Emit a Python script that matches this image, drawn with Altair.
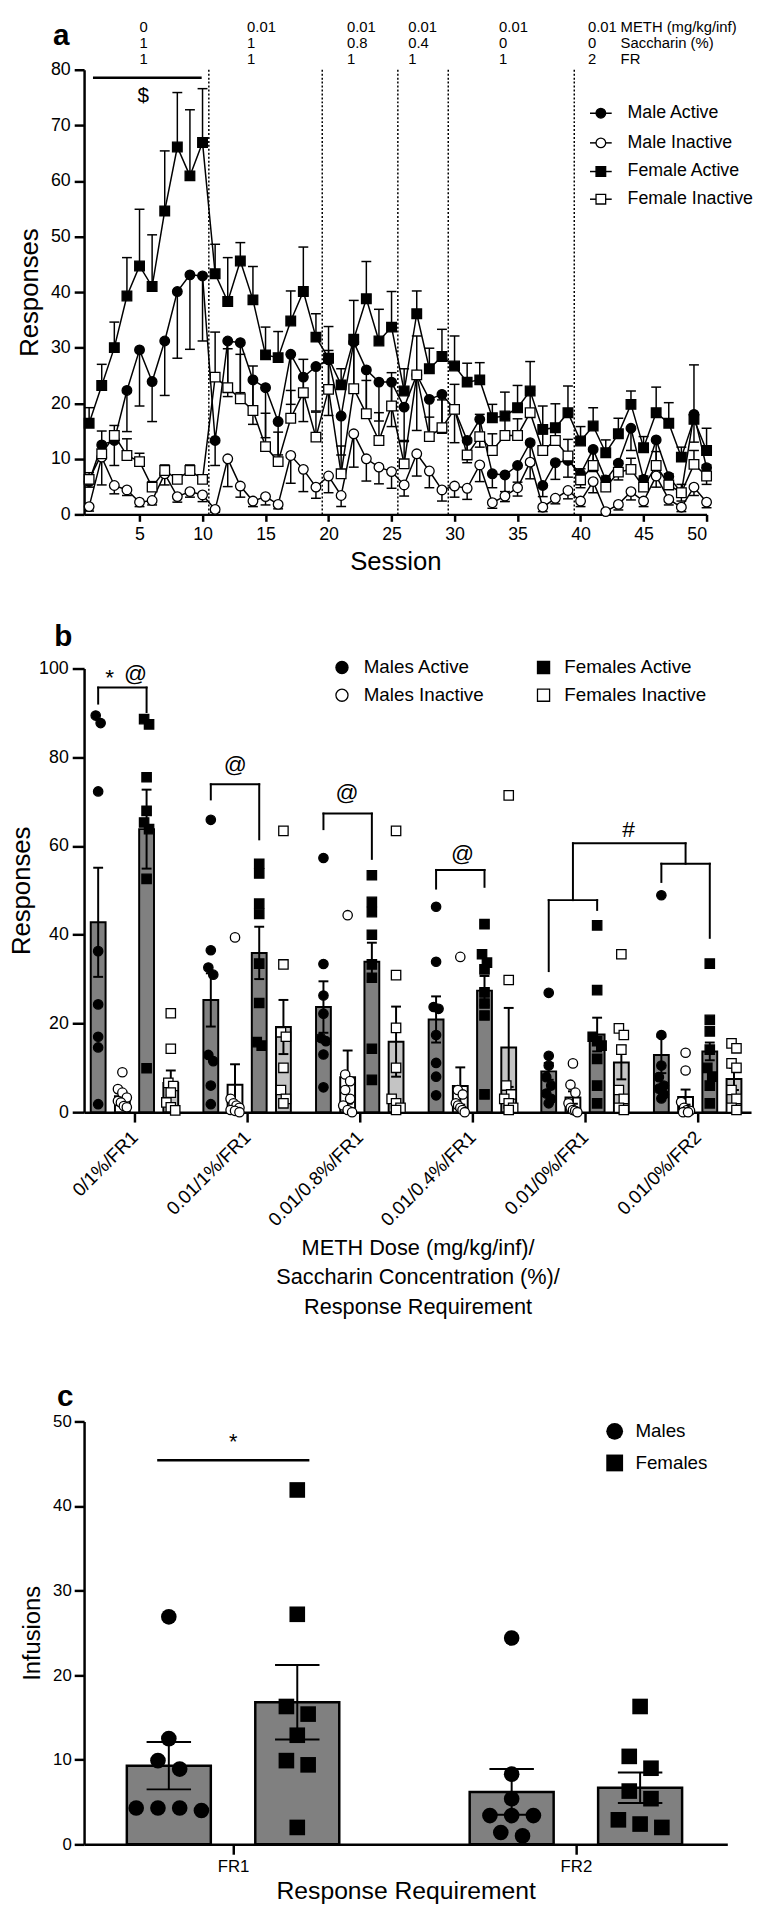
import altair as alt
import pandas as pd

FONT = "Liberation Sans"

# ---------------- Panel a: responses per session ----------------
sessions = list(range(1, 51))
series_a = ["Male Active", "Male Inactive", "Female Active", "Female Inactive"]
male_active = [5.9, 12.5, 13.3, 22.3, 29.6, 23.9, 31.2, 40.1, 43.1, 42.9,
               13.3, 31.2, 30.9, 24.2, 22.8, 16.7, 28.8, 24.7, 26.6, 27.8,
               17.7, 31.0, 26.0, 23.8, 23.8, 19.3, 25.1, 20.7, 21.6, 18.9,
               13.3, 17.1, 7.3, 7.1, 8.8, 12.9, 5.2, 9.3, 9.7, 7.3,
               11.7, 6.2, 9.2, 15.5, 6.3, 13.4, 6.8, 3.9, 18.0, 8.4]
male_active_sem = [1.0, 2.5, 4.5, 7.4, 10.1, 7.2, 9.8, 12.0, 13.4, 11.7,
                   4.5, 10.0, 9.0, 8.0, 9.0, 6.0, 9.0, 8.0, 8.0, 10.0,
                   7.0, 9.0, 8.0, 7.0, 8.0, 6.0, 10.0, 6.0, 7.0, 6.0,
                   4.0, 5.0, 2.5, 3.0, 3.0, 4.0, 2.0, 3.0, 3.0, 2.5,
                   4.0, 2.0, 3.0, 4.0, 2.0, 4.0, 2.0, 1.5, 5.0, 3.0]
male_inactive = [1.4, 10.3, 5.2, 4.4, 2.2, 2.5, 7.3, 3.2, 4.1, 3.5,
                 0.9, 10.0, 5.1, 2.4, 3.2, 1.8, 10.6, 8.1, 4.9, 6.9,
                 3.4, 14.5, 10.0, 8.5, 7.7, 5.3, 10.9, 7.8, 4.4, 5.1,
                 4.7, 8.9, 2.1, 3.3, 4.8, 9.4, 1.3, 2.9, 4.3, 2.4,
                 5.9, 0.5, 1.8, 4.1, 2.4, 6.9, 2.7, 1.3, 4.9, 2.2]
male_inactive_sem = [0.8, 5.0, 1.5, 1.0, 0.8, 0.8, 2.0, 1.0, 1.0, 1.2,
                     0.5, 5.0, 2.0, 1.0, 1.5, 0.8, 5.0, 4.0, 2.0, 3.0,
                     2.0, 6.0, 4.0, 3.0, 3.0, 2.0, 4.0, 3.0, 2.0, 2.0,
                     2.0, 3.0, 1.0, 1.0, 1.5, 3.0, 0.8, 1.0, 1.5, 1.0,
                     2.0, 0.5, 1.0, 1.5, 1.0, 2.0, 1.0, 0.8, 1.5, 1.0]
female_active = [16.4, 23.2, 30.0, 39.3, 44.7, 41.0, 54.6, 66.1, 60.9, 66.9,
                 43.3, 38.3, 45.6, 38.6, 28.7, 28.2, 34.8, 40.1, 31.9, 28.1,
                 23.3, 31.5, 38.8, 31.2, 33.7, 22.2, 36.1, 26.2, 28.4, 26.7,
                 23.8, 24.2, 17.4, 17.7, 19.2, 22.2, 15.3, 15.6, 18.3, 13.2,
                 15.9, 11.1, 14.5, 19.8, 12.0, 18.3, 16.4, 10.3, 17.1, 11.5]
female_active_sem = [2.8, 3.8, 4.6, 6.9, 10.2, 9.3, 10.8, 9.8, 11.9, 9.7,
                     5.3, 7.9, 3.3, 6.0, 5.0, 4.7, 5.4, 8.0, 4.2, 5.7,
                     2.9, 7.0, 6.7, 5.7, 6.4, 4.0, 4.1, 3.7, 4.9, 5.4,
                     3.4, 3.1, 2.4, 4.3, 4.0, 5.3, 4.2, 4.3, 4.8, 2.6,
                     3.3, 2.3, 2.8, 2.4, 2.0, 4.6, 3.7, 1.8, 9.8, 4.0]
female_inactive = [6.3, 10.9, 14.2, 10.6, 9.5, 4.9, 7.9, 6.3, 7.9, 6.3,
                   24.7, 22.8, 20.8, 18.7, 12.2, 9.5, 17.3, 21.9, 13.9, 22.5,
                   7.3, 22.6, 18.1, 13.3, 19.5, 9.1, 25.1, 14.0, 15.6, 18.9,
                   10.7, 14.0, 11.5, 14.2, 14.2, 18.3, 11.5, 13.3, 10.5, 6.2,
                   8.8, 4.9, 7.6, 8.1, 4.9, 8.8, 5.3, 3.9, 9.0, 6.9]
female_inactive_sem = [1.2, 4.1, 1.8, 3.0, 1.5, 1.0, 1.0, 0.8, 1.0, 0.8,
                       8.1, 7.0, 8.0, 8.0, 6.0, 5.3, 5.0, 6.0, 4.5, 7.0,
                       5.0, 8.0, 6.0, 5.0, 6.0, 4.0, 7.0, 3.5, 5.0, 4.5,
                       3.0, 4.0, 3.0, 3.0, 3.0, 4.0, 3.0, 3.0, 3.0, 2.0,
                       2.5, 2.0, 2.0, 2.0, 2.0, 2.5, 2.0, 1.5, 2.5, 2.0]
phase_breaks = [10.5, 19.5, 25.5, 29.5, 39.5]
phase_meth = ["0", "0.01", "0.01", "0.01", "0.01", "0.01"]
phase_sacc = ["1", "1", "0.8", "0.4", "0", "0"]
phase_fr = ["1", "1", "1", "1", "1", "2"]
phase_row_titles = ["METH (mg/kg/inf)", "Saccharin (%)", "FR"]

# ---------------- Panel b: responses per condition ----------------
conditions = ["0/1%/FR1", "0.01/1%/FR1", "0.01/0.8%/FR1",
              "0.01/0.4%/FR1", "0.01/0%/FR1", "0.01/0%/FR2"]
series_b = ["Males Active", "Males Inactive", "Females Active", "Females Inactive"]
b_mean = {
    "Males Active": [42.8, 25.3, 23.7, 20.9, 9.2, 12.9],
    "Males Inactive": [3.6, 6.2, 7.9, 5.9, 3.3, 3.4],
    "Females Active": [63.8, 35.9, 33.9, 27.4, 17.5, 13.7],
    "Females Inactive": [6.6, 19.2, 15.9, 14.6, 11.2, 7.5],
}
b_sem = {
    "Males Active": [12.3, 6.0, 5.8, 5.2, 1.9, 4.1],
    "Males Inactive": [1.0, 4.6, 6.0, 4.2, 1.4, 1.7],
    "Females Active": [8.9, 5.9, 4.3, 3.3, 3.8, 2.0],
    "Females Inactive": [2.8, 6.1, 7.9, 8.9, 3.8, 2.5],
}
b_points = {
    "Males Active": [
        [89.4, 87.7, 72.3, 36.3, 24.3, 17.0, 14.6, 1.8],
        [65.9, 36.5, 32.6, 31.0, 12.9, 11.5, 6.0, 1.8],
        [57.3, 33.4, 26.3, 22.2, 16.7, 16.0, 13.0, 5.6],
        [46.3, 33.9, 23.7, 23.3, 17.4, 11.1, 8.0, 3.8],
        [26.9, 12.7, 10.5, 7.9, 6.0, 4.2, 3.0, 2.0],
        [48.9, 17.4, 10.5, 7.9, 6.0, 5.3, 4.0, 3.1]],
    "Males Inactive": [
        [9.0, 5.2, 4.4, 3.3, 2.5, 2.2, 1.4, 1.1],
        [39.4, 3.0, 2.0, 1.5, 1.0, 0.5, 0.3, 0.0],
        [44.4, 8.5, 7.0, 5.0, 3.0, 1.5, 0.5, 0.0],
        [35.0, 5.0, 4.0, 2.0, 1.5, 1.0, 0.5, 0.0],
        [11.0, 6.2, 4.4, 2.0, 1.0, 0.5, 0.3, 0.0],
        [13.4, 9.4, 2.3, 1.0, 0.5, 0.3, 0.0, 0.0]],
    "Females Active": [
        [88.6, 87.4, 75.5, 67.9, 65.3, 63.8, 52.6, 9.9],
        [56.0, 53.8, 47.0, 44.7, 33.5, 24.6, 15.8, 15.0],
        [53.4, 47.4, 45.1, 40.0, 33.3, 30.3, 14.3, 7.3],
        [42.4, 35.6, 33.7, 32.2, 27.0, 24.5, 21.8, 4.0],
        [42.1, 27.5, 17.0, 16.0, 15.0, 12.0, 6.0, 2.0],
        [33.5, 20.8, 18.2, 14.1, 10.0, 8.0, 6.0, 2.0]],
    "Females Inactive": [
        [22.3, 14.3, 6.6, 5.9, 4.4, 2.2, 1.1, 0.4],
        [63.4, 33.3, 18.0, 17.0, 10.0, 5.0, 3.0, 2.0],
        [63.4, 30.9, 19.0, 10.0, 3.0, 2.0, 1.0, 0.5],
        [71.4, 29.8, 6.0, 4.0, 3.0, 2.0, 1.0, 0.5],
        [35.6, 18.9, 17.4, 14.1, 5.0, 3.0, 1.0, 0.5],
        [15.5, 14.4, 11.0, 10.0, 5.0, 3.0, 1.0, 0.5]],
}

# ---------------- Panel c: infusions ----------------
requirements = ["FR1", "FR2"]
sexes = ["Males", "Females"]
c_mean = {"Males": [9.3, 6.2], "Females": [16.8, 6.7]}
c_sem = {"Males": [2.8, 2.7], "Females": [4.4, 1.8]}
c_points = {
    "Males": [[26.9, 12.5, 9.9, 8.9, 4.3, 4.3, 4.3, 4.0],
              [24.4, 8.3, 5.4, 3.4, 3.4, 3.4, 1.4, 1.0]],
    "Females": [[41.9, 27.2, 16.3, 15.4, 12.9, 9.9, 9.4, 2.0],
                [16.3, 10.4, 9.0, 6.3, 5.4, 2.9, 2.4, 2.0]],
}

# =====================================================================
# layout / style
PLOT_LEFT = 77          # page x of every plot's left edge
LEFT_BOUND = -69        # leftmost extent relative to plot (page x = 8)


def style_of(series):
    shape = "square" if series.startswith("Female") else "circle"
    fill = "white" if series.endswith("Inactive") else "black"
    return shape, fill


def swarm(values, px_per_unit, diam, spacing, max_range):
    """GraphPad-like horizontal spreading of overlapping dots (pixel offsets)."""
    order = sorted(range(len(values)), key=lambda i: -values[i])
    bins, cur = [], [order[0]]
    for i in order[1:]:
        if (values[cur[0]] - values[i]) * px_per_unit < diam:
            cur.append(i)
        else:
            bins.append(cur)
            cur = [i]
    bins.append(cur)
    offs = [0.0] * len(values)
    for b in bins:
        n = len(b)
        sp = spacing if n < 2 else min(spacing, max_range / (n - 1))
        for j, i in enumerate(b):
            offs[i] = (j - (n - 1) / 2) * sp
    return offs


def bound_box(top, bottom):
    return alt.Chart(pd.DataFrame({"a": [0]})).mark_rule(strokeOpacity=0).encode(
        x=alt.value(LEFT_BOUND), x2=alt.value(0),
        y=alt.value(top), y2=alt.value(bottom))


def points(df, shape, fill, size, X, Y, sw=1.3):
    return alt.Chart(df).mark_point(shape=shape, filled=True, fill=fill, stroke="black",
                                    strokeWidth=sw, size=size, opacity=1).encode(x=X, y=Y)


axis_common = dict(domainColor="black", tickColor="black", labelColor="black",
                   titleColor="black", grid=False, labelFont=FONT, titleFont=FONT,
                   titleFontWeight="normal")

# =====================================================================
# Panel a
AW, AH = 630, 450
AX0, AX1, AY0, AY1 = 0.6, 50.0, 0.0, 80.0
A_TOP = 68


def a_x(page_x):
    return AX0 + (page_x - PLOT_LEFT) / AW * (AX1 - AX0)


def a_y(page_y):
    return AY1 - (page_y - A_TOP) / AH * (AY1 - AY0)


axis_ax = alt.Axis(values=list(range(5, 51, 5)), title="Session", titleFontSize=26,
                   labelFontSize=18, tickSize=7, tickWidth=2.5, domainWidth=2.5,
                   labelPadding=4, titlePadding=6, **axis_common)
axis_ay = alt.Axis(values=list(range(0, 81, 10)), title="Responses", titleFontSize=26,
                   labelFontSize=18, tickSize=10, tickWidth=2.5, domainWidth=2.5,
                   labelPadding=4, titlePadding=8, **axis_common)
sc_ax = alt.Scale(domain=[AX0, AX1], nice=False, zero=False)
sc_ay = alt.Scale(domain=[AY0, AY1], nice=False)


def XA(f="x"):
    return alt.X(f + ":Q", scale=sc_ax, axis=axis_ax)


def YA(f="y"):
    return alt.Y(f + ":Q", scale=sc_ay, axis=axis_ay)


vals_a = {"Male Active": (male_active, male_active_sem, -1),
          "Male Inactive": (male_inactive, male_inactive_sem, -1),
          "Female Active": (female_active, female_active_sem, 1),
          "Female Inactive": (female_inactive, female_inactive_sem, 1)}
rows = []
for s in series_a:
    v, e, d = vals_a[s]
    for ses, val, err in zip(sessions, v, e):
        cap = max(0.0, val + d * err)
        rows.append({"x": ses, "y": val, "y2": cap, "series": s})
df_a = pd.DataFrame(rows)

dotted = alt.Chart(pd.DataFrame({"x": phase_breaks})).mark_rule(
    strokeDash=[2, 2], strokeWidth=1.5, color="black").encode(
    x=XA(), y=alt.datum(AY0), y2=alt.datum(AY1))
err_a = alt.Chart(df_a).mark_rule(strokeWidth=1.5, color="black").encode(
    x=XA(), y=YA(), y2="y2:Q")
cap_a = alt.Chart(df_a).mark_tick(orient="horizontal", size=10, thickness=1.5,
                                  color="black", opacity=1).encode(x=XA(), y=YA("y2"))
lines_a = alt.Chart(df_a).mark_line(strokeWidth=1.5, color="black").encode(
    x=XA(), y=YA(), detail="series:N")
pts_a = [points(df_a[df_a.series == s], *style_of(s), 95, XA(), YA()) for s in series_a]

# top annotation rows (positioned by their top edge)
col_px = [133, 242, 343, 405, 497, 587]
row_top_py = [18, 34, 50]
ann = []
for r, lst in enumerate([phase_meth, phase_sacc, phase_fr]):
    for cpx, t in zip(col_px, lst):
        ann.append({"x": a_x(cpx), "y": a_y(row_top_py[r]), "t": t})
    ann.append({"x": a_x(620), "y": a_y(row_top_py[r]), "t": phase_row_titles[r]})
ann_a = alt.Chart(pd.DataFrame(ann)).mark_text(align="left", baseline="top", fontSize=15,
                                               font=FONT, color="black").encode(
    x=XA(), y=YA(), text="t:N")

dollar_line = alt.Chart(pd.DataFrame({"x": [a_x(86)], "x2": [a_x(196)], "y": [a_y(76)]})).mark_rule(
    strokeWidth=2.5, color="black").encode(x=XA(), x2="x2:Q", y=YA())
dollar_txt = alt.Chart(pd.DataFrame({"x": [a_x(137)], "y": [a_y(95)], "t": ["$"]})).mark_text(
    fontSize=21, font=FONT, color="black").encode(x=XA(), y=YA(), text="t:N")
label_a = alt.Chart(pd.DataFrame({"x": [a_x(54)], "y": [a_y(43)], "t": ["a"]})).mark_text(
    fontSize=30, fontWeight="bold", font=FONT, color="black", baseline="alphabetic").encode(
    x=XA(), y=YA(), text="t:N")

leg_rows_py = [112, 142, 171, 199]
leg_a = pd.DataFrame({"series": series_a,
                      "x": [a_x(600)] * 4, "xl": [a_x(589)] * 4, "xr": [a_x(611)] * 4,
                      "xt": [a_x(627)] * 4, "y": [a_y(p) for p in leg_rows_py]})
leg_line = alt.Chart(leg_a).mark_rule(strokeWidth=1.5, color="black").encode(
    x=XA("xl"), x2="xr:Q", y=YA())
leg_pts = [points(leg_a[leg_a.series == s], *style_of(s), 95, XA(), YA()) for s in series_a]
leg_txt = alt.Chart(leg_a).mark_text(align="left", baseline="middle", fontSize=18, font=FONT,
                                     color="black").encode(x=XA("xt"), y=YA(), text="series:N")

panel_a = alt.layer(dotted, lines_a, err_a, cap_a, *pts_a, ann_a, dollar_line, dollar_txt,
                    label_a, leg_line, *leg_pts, leg_txt,
                    bound_box(-50, 538)).properties(width=AW, height=AH)

# =====================================================================
# Panel b
BW, BH = 675, 449
BX0, BX1, BY0, BY1 = -0.4474, 5.4737, 0.0, 100.0
B_TOP = 664
B_PPU_X = BW / (BX1 - BX0)
B_PPU_Y = BH / (BY1 - BY0)


def b_x(page_x):
    return BX0 + (page_x - PLOT_LEFT) / B_PPU_X


def b_y(page_y):
    return BY1 - (page_y - B_TOP) / B_PPU_Y


b_offsets = [-36.75, -12.25, 12.25, 36.75]
b_half = 7.5
sc_bx = alt.Scale(domain=[BX0, BX1], nice=False, zero=False)
sc_by = alt.Scale(domain=[BY0, BY1], nice=False)
label_expr = "[" + ",".join("'" + c + "'" for c in conditions) + "][datum.value]"
axis_bx = alt.Axis(values=list(range(6)), labelExpr=label_expr, labelAngle=-45,
                   labelAlign="right", labelBaseline="middle", labelFontSize=19,
                   labelPadding=12, labelOverlap=False, labelFlush=False, tickSize=10,
                   tickWidth=2.5, domainWidth=2.5,
                   title=["METH Dose (mg/kg/inf)/", "Saccharin Concentration (%)/",
                          "Response Requirement"],
                   titleFontSize=22, titleLineHeight=30, titlePadding=8, **axis_common)
axis_by = alt.Axis(values=list(range(0, 101, 20)), title="Responses", titleFontSize=26,
                   labelFontSize=18, tickSize=12, tickWidth=2.5, domainWidth=2.5,
                   labelPadding=4, titlePadding=4, **axis_common)


def XB(f="x"):
    return alt.X(f + ":Q", scale=sc_bx, axis=axis_bx)


def YB(f="y"):
    return alt.Y(f + ":Q", scale=sc_by, axis=axis_by)


bar_rows, pt_rows = [], []
for k, s in enumerate(series_b):
    for g in range(6):
        cx = g + b_offsets[k] / B_PPU_X
        m, e = b_mean[s][g], b_sem[s][g]
        bar_rows.append({"x": cx, "xl": cx - b_half / B_PPU_X, "xr": cx + b_half / B_PPU_X,
                         "cl": cx - 5 / B_PPU_X, "cr": cx + 5 / B_PPU_X,
                         "y": m, "lo": max(0.0, m - e), "hi": m + e, "series": s})
        pts = b_points[s][g]
        offs = swarm(pts, B_PPU_Y, 9, 5, 9)
        for v, o in zip(pts, offs):
            pt_rows.append({"x": cx + o / B_PPU_X, "y": v, "series": s})
df_bb = pd.DataFrame(bar_rows)
df_bp = pd.DataFrame(pt_rows)
bar_colors = {"Males Active": "#808080", "Males Inactive": "#ffffff",
              "Females Active": "#808080", "Females Inactive": "#c4c4c4"}

bars_b = [alt.Chart(df_bb[df_bb.series == s]).mark_bar(
    stroke="black", strokeWidth=2, fill=bar_colors[s]).encode(
    x=XB("xl"), x2="xr:Q", y=YB(), y2=alt.datum(0)) for s in series_b]
err_b = alt.Chart(df_bb).mark_rule(strokeWidth=2, color="black").encode(
    x=XB(), y=YB("lo"), y2="hi:Q")
capb_hi = alt.Chart(df_bb).mark_rule(strokeWidth=2, color="black").encode(
    x=XB("cl"), x2="cr:Q", y=YB("hi"))
capb_lo = alt.Chart(df_bb).mark_rule(strokeWidth=2, color="black").encode(
    x=XB("cl"), x2="cr:Q", y=YB("lo"))
pts_b = [points(df_bp[df_bp.series == s], *style_of(s), 90, XB(), YB()) for s in series_b]


def bx(g, k):
    return g + b_offsets[k] / B_PPU_X


segs = []
for g, top, lb, rb in [(0, 95.7, 92.1, 90.2), (1, 73.9, 70.5, 61.5),
                       (2, 67.3, 63.8, 57.1), (3, 54.6, 50.4, 50.8),
                       (4, 47.8, 31.8, 45.6), (5, 56.0, 51.9, 39.3)]:
    l, r = bx(g, 0), bx(g, 2)
    segs += [(l, lb, l, top), (l, top, r, top), (r, top, r, rb)]
m4 = (bx(4, 0) + bx(4, 2)) / 2
m5 = (bx(5, 0) + bx(5, 2)) / 2
segs += [(m4, 47.8, m4, 60.6), (m5, 56.0, m5, 60.6), (m4, 60.6, m5, 60.6)]
df_seg = pd.DataFrame(segs, columns=["x", "y", "x2", "y2"])
brackets = alt.Chart(df_seg).mark_rule(strokeWidth=2, color="black", strokeCap="square").encode(
    x=XB(), y=YB(), x2="x2:Q", y2="y2:Q")
sig_b = pd.DataFrame({"x": [b_x(103), b_x(129), b_x(230), b_x(343), b_x(460), b_x(628)],
                      "y": [97.8, 98.7, 78.2, 71.9, 58.2, 63.6],
                      "t": ["*", "@", "@", "@", "@", "#"]})
sig_txt = alt.Chart(sig_b).mark_text(fontSize=23, font=FONT, color="black").encode(
    x=XB(), y=YB(), text="t:N")
label_b = alt.Chart(pd.DataFrame({"x": [b_x(56)], "y": [b_y(632)], "t": ["b"]})).mark_text(
    fontSize=30, fontWeight="bold", font=FONT, color="black").encode(x=XB(), y=YB(), text="t:N")

leg_b = pd.DataFrame({"series": series_b,
                      "x": [b_x(338), b_x(338), b_x(542), b_x(542)],
                      "xt": [b_x(360), b_x(360), b_x(563), b_x(563)],
                      "y": [b_y(663), b_y(691), b_y(663), b_y(691)]})
leg_b_pts = [points(leg_b[leg_b.series == s], *style_of(s), 150, XB(), YB()) for s in series_b]
leg_b_txt = alt.Chart(leg_b).mark_text(align="left", baseline="middle", fontSize=19, font=FONT,
                                       color="black").encode(x=XB("xt"), y=YB(), text="series:N")

panel_b = alt.layer(*bars_b, err_b, capb_hi, capb_lo, *pts_b, brackets, sig_txt, label_b,
                    *leg_b_pts, leg_b_txt,
                    bound_box(-68, 704)).properties(width=BW, height=BH)

# =====================================================================
# Panel c
CW, CH = 651, 428
CX0, CX1, CY0, CY1 = -0.4345, 1.4417, 0.0, 50.0
C_TOP = 1416
C_PPU_X = CW / (CX1 - CX0)
C_PPU_Y = CH / (CY1 - CY0)


def c_x(page_x):
    return CX0 + (page_x - PLOT_LEFT) / C_PPU_X


def c_y(page_y):
    return CY1 - (page_y - C_TOP) / C_PPU_Y


sc_cx = alt.Scale(domain=[CX0, CX1], nice=False, zero=False)
sc_cy = alt.Scale(domain=[CY0, CY1], nice=False)
axis_cx = alt.Axis(values=[0, 1], labelExpr="['FR1','FR2'][datum.value]",
                   labelFontSize=17, tickSize=10, tickWidth=2.5, domainWidth=2.5,
                   labelPadding=4, title="Response Requirement", titleFontSize=25,
                   titlePadding=5, **axis_common)
axis_cy = alt.Axis(values=list(range(0, 51, 10)), title="Infusions", titleFontSize=24,
                   labelFontSize=17, tickSize=10, tickWidth=2.5, domainWidth=2.5,
                   labelPadding=3, titlePadding=8, **axis_common)


def XC(f="x"):
    return alt.X(f + ":Q", scale=sc_cx, axis=axis_cx)


def YC(f="y"):
    return alt.Y(f + ":Q", scale=sc_cy, axis=axis_cy)


c_off = [-65, 65]
bar_rows, pt_rows = [], []
for k, s in enumerate(sexes):
    for g in range(2):
        cx = g + c_off[k] / C_PPU_X
        m, e = c_mean[s][g], c_sem[s][g]
        bar_rows.append({"x": cx, "xl": cx - 42.5 / C_PPU_X, "xr": cx + 42.5 / C_PPU_X,
                         "cl": cx - 22.5 / C_PPU_X, "cr": cx + 22.5 / C_PPU_X,
                         "y": m, "lo": m - e, "hi": m + e, "series": s})
        pts = c_points[s][g]
        offs = swarm(pts, C_PPU_Y, 16, 22, 68)
        for v, o in zip(pts, offs):
            pt_rows.append({"x": cx + o / C_PPU_X, "y": v, "series": s})
df_cb = pd.DataFrame(bar_rows)
df_cp = pd.DataFrame(pt_rows)
c_shape = {"Males": "circle", "Females": "square"}

bars_c = alt.Chart(df_cb).mark_bar(stroke="black", strokeWidth=2.5, fill="#808080").encode(
    x=XC("xl"), x2="xr:Q", y=YC(), y2=alt.datum(0))
pts_c = [points(df_cp[df_cp.series == s], c_shape[s], "black", 250, XC(), YC(), sw=0)
         for s in sexes]
err_c = alt.Chart(df_cb).mark_rule(strokeWidth=2, color="black").encode(
    x=XC(), y=YC("lo"), y2="hi:Q")
capc_hi = alt.Chart(df_cb).mark_rule(strokeWidth=2, color="black").encode(
    x=XC("cl"), x2="cr:Q", y=YC("hi"))
capc_lo = alt.Chart(df_cb).mark_rule(strokeWidth=2, color="black").encode(
    x=XC("cl"), x2="cr:Q", y=YC("lo"))

sig_line_c = alt.Chart(pd.DataFrame({"x": [c_x(151)], "x2": [c_x(305)], "y": [45.4]})).mark_rule(
    strokeWidth=2.5, color="black").encode(x=XC(), x2="x2:Q", y=YC())
sig_txt_c = alt.Chart(pd.DataFrame({"x": [c_x(228)], "y": [47.6], "t": ["*"]})).mark_text(
    fontSize=22, font=FONT, color="black").encode(x=XC(), y=YC(), text="t:N")
label_c = alt.Chart(pd.DataFrame({"x": [c_x(58)], "y": [c_y(1391)], "t": ["c"]})).mark_text(
    fontSize=30, fontWeight="bold", font=FONT, color="black").encode(x=XC(), y=YC(), text="t:N")
leg_c = pd.DataFrame({"series": sexes, "x": [c_x(614)] * 2, "xt": [c_x(635)] * 2,
                      "y": [c_y(1426), c_y(1458)]})
leg_c_pts = [points(leg_c[leg_c.series == s], c_shape[s], "black", 290, XC(), YC(), sw=0)
             for s in sexes]
leg_c_txt = alt.Chart(leg_c).mark_text(align="left", baseline="middle", fontSize=19, font=FONT,
                                       color="black").encode(x=XC("xt"), y=YC(), text="series:N")

panel_c = alt.layer(bars_c, *pts_c, err_c, capc_hi, capc_lo, sig_line_c, sig_txt_c, label_c,
                    *leg_c_pts, leg_c_txt,
                    bound_box(-58, 480)).properties(width=CW, height=CH)

chart = alt.vconcat(panel_a, panel_b, panel_c, spacing=0).properties(
    padding=0, autosize=alt.AutoSizeParams(type="pad")).configure(
    font=FONT, background="white", padding=0).configure_view(strokeWidth=0)

chart.save("out.html", embed_options={"renderer": "svg", "actions": False})
